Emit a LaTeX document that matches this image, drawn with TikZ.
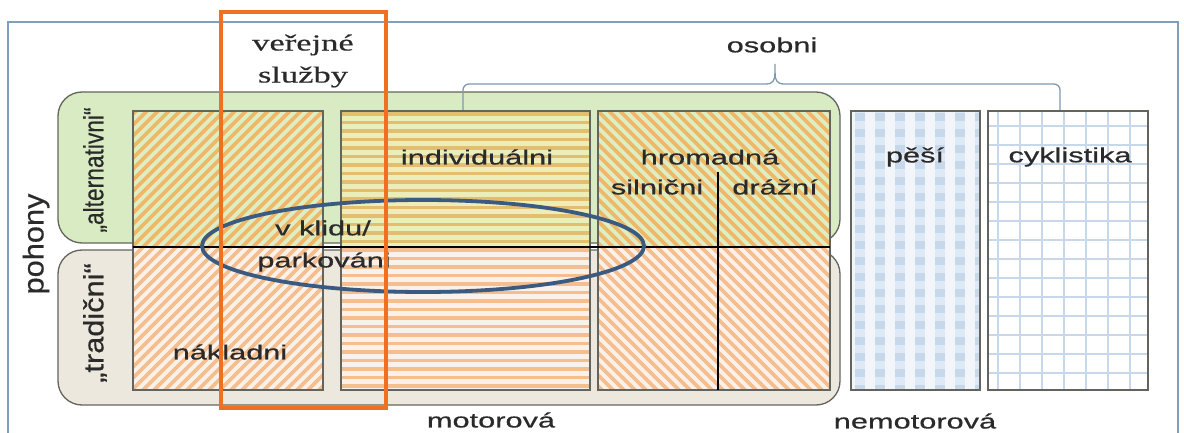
\documentclass[tikz,border=0pt]{standalone}
\usepackage{fontspec}
\newfontfamily\sfx{Liberation Sans}[FakeStretch=1.5,FakeBold=0.6]
\newfontfamily\rmx{Liberation Serif}[FakeStretch=1.5,FakeBold=0.4]
\definecolor{framec}{RGB}{128,158,190}
\definecolor{gboxc}{RGB}{216,235,194}
\definecolor{bboxc}{RGB}{237,232,222}
\definecolor{boxline}{RGB}{100,100,95}
\definecolor{upstr}{RGB}{238,184,104}
\definecolor{upbg}{RGB}{222,238,196}
\definecolor{midupbg}{RGB}{236,238,186}
\definecolor{midupstr}{RGB}{228,190,112}
\definecolor{lostr}{RGB}{244,190,142}
\definecolor{lobg}{RGB}{250,242,234}
\definecolor{orng}{RGB}{240,112,34}
\definecolor{ellc}{RGB}{58,90,130}
\definecolor{txt}{RGB}{42,42,42}
\definecolor{bluel}{RGB}{222,233,246}
\definecolor{blued}{RGB}{200,216,235}
\definecolor{bluebg}{RGB}{242,246,251}
\definecolor{gridc}{RGB}{200,215,233}
\tikzset{
  lbl/.style={inner sep=0pt, text=txt, font=\sfx\fontsize{20.5}{24}\selectfont},
  cellline/.style={draw=boxline, line width=1.1pt},
  bigbox/.style={draw=boxline, line width=1.3pt, rounded corners=24pt},
  brk/.style={draw=framec!80!gray, line width=1.3pt},
}
\begin{document}
\begin{tikzpicture}[x=1pt,y=-1pt]
\useasboundingbox (0,0) rectangle (1184,433);
% frame
\draw[framec, line width=1.4pt] (8,440) -- (8,22) -- (1178,22) -- (1178,440);
% big boxes
\fill[gboxc] [rounded corners=24pt] (58,92) rectangle (840,243);
\fill[bboxc] [rounded corners=24pt] (58,250) rectangle (840,405);
\draw[bigbox] (58,92) rectangle (840,243);
\draw[bigbox] (58,250) rectangle (840,405);
% left cell (/ hatch)
\begin{scope}
  \clip (133,111) rectangle (323,247);
  \fill[upbg] (133,111) rectangle (323,247);
  \foreach \k in {-330,-319,...,220} \draw[upstr, line width=3.6pt] (133+\k,400) -- ++(330,-330);
\end{scope}
\begin{scope}
  \clip (133,247) rectangle (323,390);
  \fill[lobg] (133,247) rectangle (323,390);
  \foreach \k in {-330,-319,...,220} \draw[lostr, line width=3.6pt] (133+\k,400) -- ++(330,-330);
\end{scope}
\draw[cellline] (133,111) rectangle (323,390);
% middle cell (horizontal stripes)
\begin{scope}
  \clip (341,111) rectangle (590,247);
  \fill[midupbg] (341,111) rectangle (590,247);
  \foreach \y in {114,122.5,...,250} \draw[midupstr, line width=3.6pt] (341,\y) -- (590,\y);
\end{scope}
\begin{scope}
  \clip (341,247) rectangle (590,390);
  \fill[lobg] (341,247) rectangle (590,390);
  \foreach \y in {114,122.5,...,392} \draw[lostr, line width=3.6pt] (341,\y) -- (590,\y);
\end{scope}
\draw[cellline] (341,111) rectangle (590,390);
% right cell (\ hatch)
\begin{scope}
  \clip (598,111) rectangle (830,247);
  \fill[upbg] (598,111) rectangle (830,247);
  \foreach \k in {-330,-319,...,250} \draw[upstr, line width=3.6pt] (598+\k,100) -- ++(330,330);
\end{scope}
\begin{scope}
  \clip (598,247) rectangle (830,390);
  \fill[lobg] (598,247) rectangle (830,390);
  \foreach \k in {-330,-319,...,250} \draw[lostr, line width=3.6pt] (598+\k,100) -- ++(330,330);
\end{scope}
\draw[cellline] (598,111) rectangle (830,390);
\draw[black, line width=1.1pt] (718,172) -- (718,390);
\draw[black, line width=1.1pt] (133,247) -- (830,247);
% pesi
\begin{scope}
  \clip (851,111) rectangle (980,390);
  \fill[bluebg] (851,111) rectangle (980,390);
  \foreach \x in {855,875,...,975} {
    \fill[bluel] (\x,111) rectangle (\x+10,390);
    \foreach \y in {113,129,...,390} \fill[blued] (\x,\y) rectangle (\x+10,\y+8);
  }
\end{scope}
\draw[cellline] (851,111) rectangle (980,390);
% cyklistika
\begin{scope}
  \clip (988,111) rectangle (1148,390);
  \fill[white] (988,111) rectangle (1148,390);
  \foreach \x in {998,1020,...,1148} \draw[gridc, line width=2.2pt] (\x,111) -- (\x,390);
  \foreach \y in {126,145,...,390} \draw[gridc, line width=2.2pt] (988,\y) -- (1148,\y);
\end{scope}
\draw[cellline] (988,111) rectangle (1148,390);
% bracket osobni
\coordinate (bl) at (463,110);
\coordinate (br) at (1060,110);
\coordinate (bt) at (775,64);
\draw[brk, rounded corners=6pt] (bl) -- (463,84) -- (766,84);
\draw[brk] (766,84) .. controls (773,84) and (775,80) .. (775,73) -- (bt);
\draw[brk] (775,73) .. controls (775,80) and (777,84) .. (784,84);
\draw[brk, rounded corners=6pt] (784,84) -- (1060,84) -- (br);
% labels
\node[inner sep=0pt, text=txt, align=center, font=\rmx\fontsize{23}{32}\selectfont] (verej) at (303,61) {veřejné\\služby};
\node[lbl] (osob) at (772,45) {osobni};
\node[lbl] (indiv) at (477,157) {individuálni};
\node[lbl] (hrom) at (710,157) {hromadná};
\node[lbl] (siln) at (657,187) {silnični};
\node[lbl] (draz) at (775,187) {drážní};
\node[lbl] (pesi) at (915,157) {pěší};
\node[lbl] (cykl) at (1070,157) {cyklistika};
\node[lbl] (klid) at (323,228) {v klidu/};
\node[lbl] (park) at (324,262) {parkováni};
\node[lbl] (nakl) at (230,352) {nákladni};
\node[lbl] (moto) at (491,420) {motorová};
\node[lbl] (nemo) at (915,421) {nemotorová};
\node[lbl, rotate=90] (poh) at (36,244) {\scalebox{1}[1.4]{pohony}};
\node[lbl, rotate=90] (alt) at (95,170) {\scalebox{0.74}[1.35]{„alternativni“}};
\node[lbl, rotate=90] (trad) at (95,323) {\scalebox{1}[1.35]{„tradični“}};
% ellipse
\draw[ellc, line width=3.8pt] (423,246) ellipse [x radius=221, y radius=46];
% orange frame
\draw[orng, line width=4pt] (221,12) rectangle (386,408);
\end{tikzpicture}
\end{document}
